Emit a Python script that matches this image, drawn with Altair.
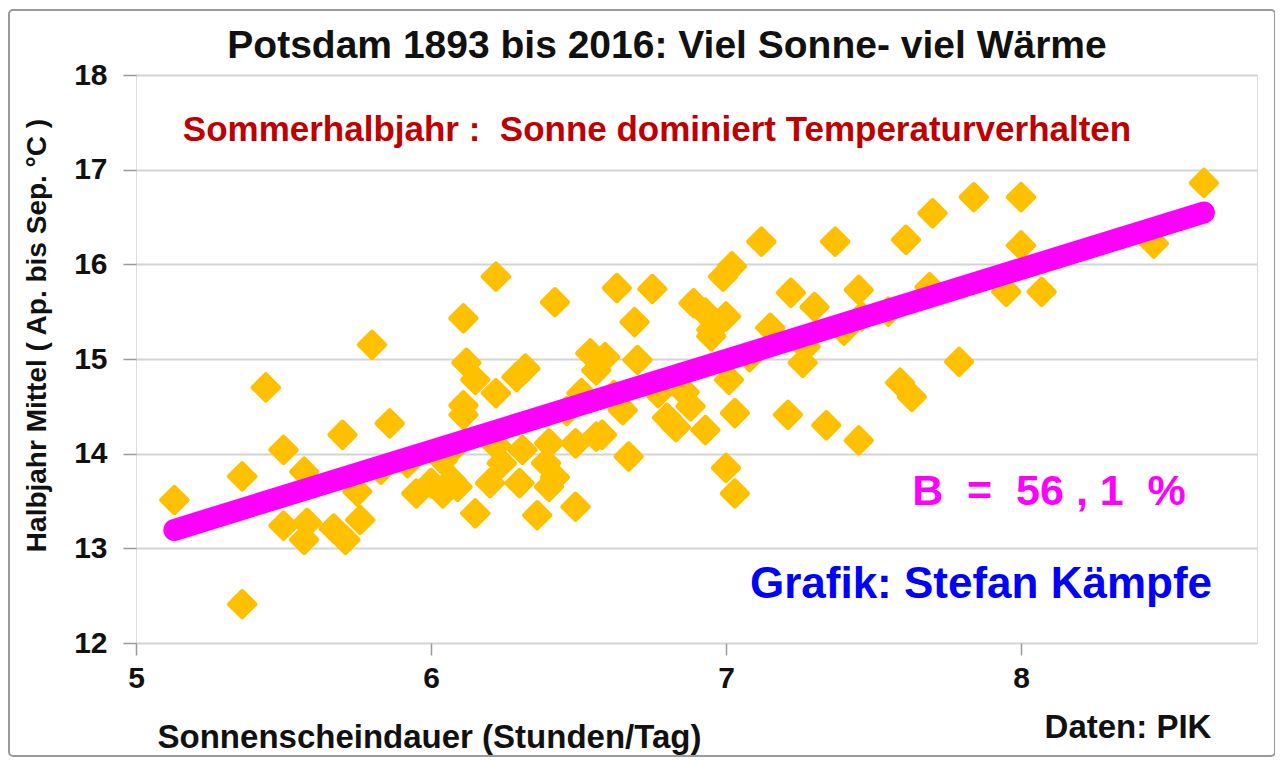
import altair as alt
import pandas as pd

# Sonnenscheindauer (Stunden/Tag) und Halbjahresmittel Temperatur (Apr.-Sep., °C)
sun_hours = [
    5.13, 5.36, 5.36, 5.44, 5.50, 5.50, 5.57, 5.57, 5.58, 5.67,
    5.71, 5.70, 5.76, 5.75, 5.80, 5.83, 5.86, 5.95, 6.00, 6.04,
    6.04, 6.07, 6.09, 6.11, 6.12, 6.15, 6.11, 6.11, 6.15, 6.20,
    6.22, 6.22, 6.24, 6.29, 6.32, 6.30, 6.31, 6.36, 6.39, 6.40,
    6.40, 6.42, 6.42, 6.49, 6.49, 6.51, 6.54, 6.56, 6.56, 6.58,
    6.59, 6.63, 6.65, 6.67, 6.69, 6.70, 6.75, 6.77, 6.80, 6.83,
    6.86, 6.88, 6.89, 6.93, 6.93, 6.95, 6.95, 6.99, 7.02, 7.00,
    7.01, 7.03, 7.00, 7.03, 7.12, 7.15, 7.22, 7.21, 7.26, 7.30,
    7.27, 7.34, 7.37, 7.45, 7.45, 7.46, 7.55, 7.59, 7.63, 7.61,
    7.70, 7.69, 7.79, 7.84, 7.95, 8.00, 8.00, 8.07, 8.45, 8.62,
    6.22, 6.07, 5.92, 6.46, 6.62, 6.84, 7.08, 7.40,
]
temperature = [
    13.51, 12.41, 13.76, 14.70, 14.04, 13.24, 13.81, 13.09, 13.27, 13.21,
    13.09, 14.20, 13.30, 13.60, 15.15, 13.83, 14.32, 13.58, 13.69, 13.58,
    13.93, 13.72, 13.65, 15.43, 14.96, 14.78, 14.51, 14.41, 13.37, 13.69,
    15.87, 14.64, 13.90, 14.81, 14.90, 13.69, 14.04, 13.35, 13.90, 14.11,
    13.65, 15.60, 13.75, 14.11, 13.44, 14.64, 15.06, 14.88, 14.18, 14.20,
    15.02, 15.75, 14.46, 13.97, 15.39, 14.99, 15.74, 14.64, 14.38, 14.28,
    14.65, 14.50, 15.59, 15.49, 14.25, 15.31, 15.24, 15.87, 15.98, 15.45,
    14.78, 14.43, 13.85, 13.58, 16.24, 15.33, 15.70, 14.41, 14.96, 15.55,
    15.13, 14.30, 16.24, 15.73, 14.14, 15.45, 15.50, 14.75, 14.60, 16.26,
    16.54, 15.76, 14.97, 16.71, 15.71, 16.71, 16.20, 15.71, 16.22, 16.86,
    14.09, 14.04, 13.90, 14.45, 14.62, 14.80, 15.02, 15.30,
]

x_ticks = [5, 6, 7, 8]
y_ticks = [12, 13, 14, 15, 16, 17, 18]

df = pd.DataFrame({"sun": sun_hours, "temp": temperature})

FONT = "Liberation Sans"
NB = "\u00a0"
W, H = 1121, 568

x_enc = alt.X(
    "sun:Q",
    scale=alt.Scale(domain=[5, 8.8], nice=False, zero=False),
    axis=alt.Axis(
        values=x_ticks, format="d", grid=False, tickSize=12, tickColor="#9a9a9a", tickWidth=1.5,
        domain=False, labelFont=FONT, labelFontSize=30, labelFontWeight="bold",
        labelColor="#111111", labelPadding=8, labelFlush=False,
        title="Sonnenscheindauer (Stunden/Tag)", titleFont=FONT, titleFontSize=33,
        titleFontWeight="bold", titleColor="#111111", titleX=293, titleY=94,
        titleBaseline="middle", titleAlign="center", titleAnchor="start",
    ),
)
y_enc = alt.Y(
    "temp:Q",
    scale=alt.Scale(domain=[12, 18], nice=False, zero=False),
    axis=alt.Axis(
        values=y_ticks, format="d", grid=True, gridColor="#d4d4d4", gridWidth=2,
        tickSize=13, tickColor="#9a9a9a", tickWidth=1.5, domain=False,
        labelFont=FONT, labelFontSize=30, labelFontWeight="bold",
        labelColor="#111111", labelPadding=16,
        title="Halbjahr Mittel ( Ap. bis Sep. °C )", titleFont=FONT, titleFontSize=28,
        titleFontWeight="bold", titleColor="#111111", titleX=-99, titleY=260,
        titleAngle=-90, titleBaseline="middle", titleAlign="center", titleAnchor="start",
    ),
)

points = alt.Chart(df).mark_point(
    shape="diamond", filled=True, size=640, color="#FFC000",
    stroke="#FFC000", strokeWidth=5, strokeJoin="round", opacity=1,
).encode(x=x_enc, y=y_enc)

trend = alt.Chart(df).transform_regression(
    "sun", "temp", extent=[5.13, 8.62]
).mark_line(color="#FF00FF", strokeWidth=22, strokeCap="round").encode(
    x="sun:Q", y="temp:Q"
)

def label(text, x, y, size, color, align="center"):
    return alt.Chart(pd.DataFrame({"t": [text]})).mark_text(
        font=FONT, fontSize=size, fontWeight="bold", color=color,
        align=align, baseline="middle",
    ).encode(text="t:N", x=alt.value(x), y=alt.value(y))

title = label("Potsdam 1893 bis 2016: Viel Sonne- viel Wärme", 531, -29, 39, "#111111")
sub = label(f"Sommerhalbjahr :{NB}{NB}Sonne dominiert Temperaturverhalten", 521, 55, 35, "#C00000")
bval = label(f"B{NB}{NB}={NB}{NB}56{NB},{NB}1{NB}{NB}%", 913, 417, 43, "#FF00FF")
graf = label("Grafik: Stefan Kämpfe", 845, 510, 44, "#0000FF")
daten = label("Daten: PIK", 992, 653, 33, "#111111")

frame = alt.Chart(pd.DataFrame({"a": [0]})).mark_rect(
    filled=False, stroke="#9a9a9a", strokeWidth=2, cornerRadius=4, clip=False
).encode(x=alt.value(-127), x2=alt.value(1139), y=alt.value(-65), y2=alt.value(681))

chart = alt.layer(frame, points, trend, sub, bval, graf, daten, title).properties(
    width=W, height=H,
    autosize=alt.AutoSizeParams(type="none"),
    padding={"left": 128, "top": 67, "right": 18, "bottom": 118},
).configure_view(stroke="#8c8c8c", strokeWidth=2).configure(background="white")

chart.save("out.html", embed_options={"renderer": "svg", "actions": False})
